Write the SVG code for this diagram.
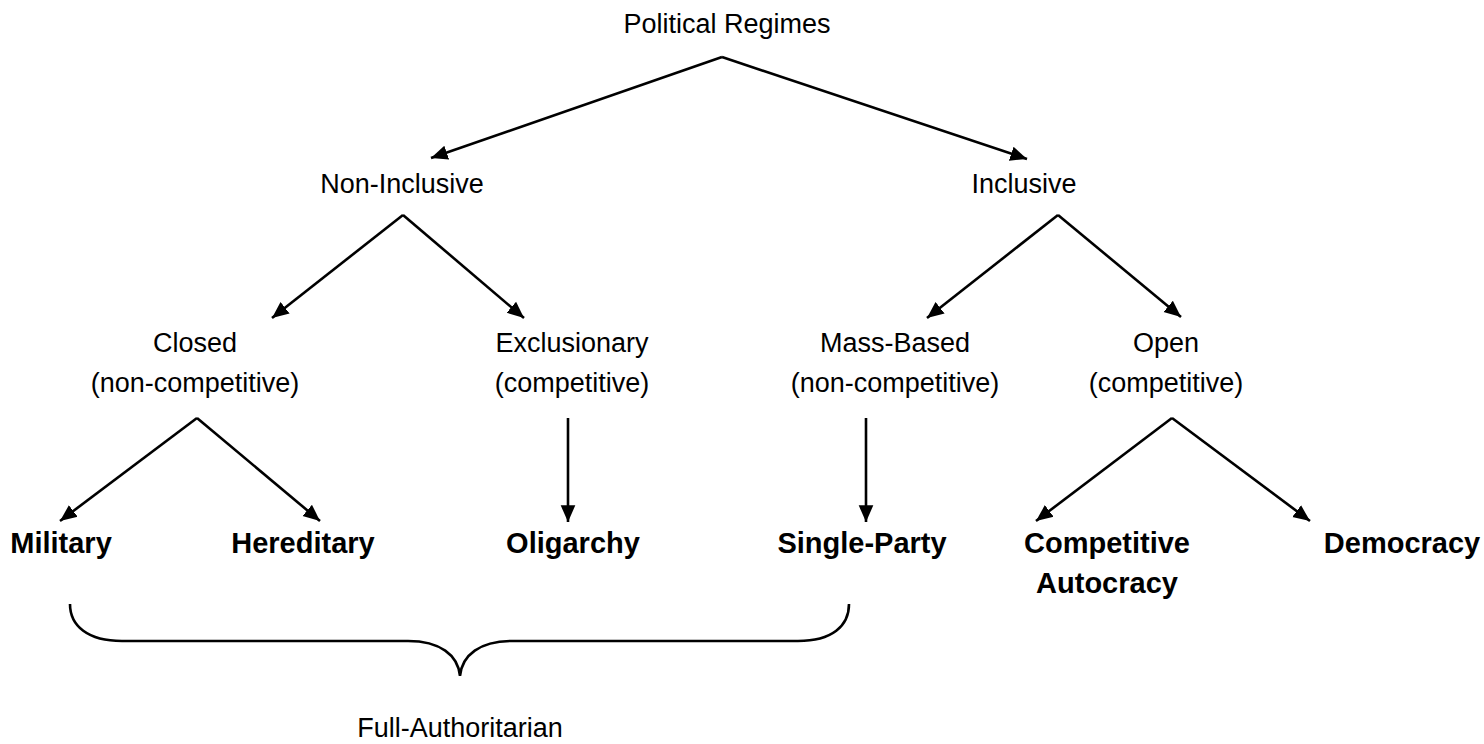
<svg xmlns="http://www.w3.org/2000/svg" width="1484" height="744" viewBox="0 0 1484 744">
<style>
text{font-family:"Liberation Sans",Arial,sans-serif;font-size:27px;fill:#000;text-anchor:middle}
.b{font-weight:bold;font-size:29px}
.c{stroke:#000;stroke-width:2.6;fill:none}
</style>
<defs>
<marker id="ah" viewBox="0 0 10 10" refX="10" refY="5" markerWidth="6.4" markerHeight="6.4" markerUnits="strokeWidth" orient="auto">
<path d="M0,0.6 L10,5 L0,9.4 z" fill="#000"/>
</marker>
</defs>
<rect width="1484" height="744" fill="#fff"/>
<g id="n-root"><text x="727" y="33">Political Regimes</text></g>
<g id="n-noninc"><text x="402" y="193">Non-Inclusive</text></g>
<g id="n-inc"><text x="1024" y="193">Inclusive</text></g>
<g id="n-closed"><text x="195" y="352">Closed</text><text x="195" y="392">(non-competitive)</text></g>
<g id="n-excl"><text x="572" y="352">Exclusionary</text><text x="572" y="392">(competitive)</text></g>
<g id="n-mass"><text x="895" y="352">Mass-Based</text><text x="895" y="392">(non-competitive)</text></g>
<g id="n-open"><text x="1166" y="352">Open</text><text x="1166" y="392">(competitive)</text></g>
<g id="n-military"><text class="b" x="61" y="553">Military</text></g>
<g id="n-hered"><text class="b" x="303" y="553">Hereditary</text></g>
<g id="n-olig"><text class="b" x="573" y="553">Oligarchy</text></g>
<g id="n-single"><text class="b" x="862" y="553">Single-Party</text></g>
<g id="n-compaut"><text class="b" x="1107" y="553">Competitive</text><text class="b" x="1107" y="593">Autocracy</text></g>
<g id="n-demo"><text class="b" x="1402" y="553">Democracy</text></g>
<g id="n-full"><text x="460" y="737">Full-Authoritarian</text></g>
<g id="connectors">
<path class="c" marker-end="url(#ah)" d="M722,57 L431,158"/>
<path class="c" marker-end="url(#ah)" d="M722,57 L1027,159"/>
<path class="c" marker-end="url(#ah)" d="M403,215 L272,318"/>
<path class="c" marker-end="url(#ah)" d="M403,215 L524,318"/>
<path class="c" marker-end="url(#ah)" d="M1058,215 L927,318"/>
<path class="c" marker-end="url(#ah)" d="M1058,215 L1181,317"/>
<path class="c" marker-end="url(#ah)" d="M197,418 L60,521"/>
<path class="c" marker-end="url(#ah)" d="M197,418 L320,521"/>
<path class="c" marker-end="url(#ah)" d="M568,418 L568,522"/>
<path class="c" marker-end="url(#ah)" d="M866,418 L866,522"/>
<path class="c" marker-end="url(#ah)" d="M1172,418 L1036,521"/>
<path class="c" marker-end="url(#ah)" d="M1172,418 L1310,521"/>
<path class="c" stroke-width="3" d="M70,604 C70,626 88,641 122,641 L408,641 C440,641 458,655 460,676 C462,655 480,641 512,641 L798,641 C832,641 849,626 849,604"/>
</g>
</svg>
